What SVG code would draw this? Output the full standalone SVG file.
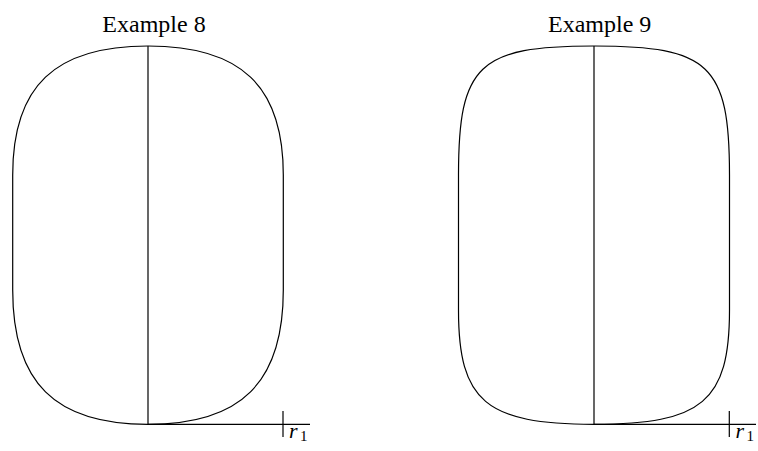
<svg xmlns="http://www.w3.org/2000/svg" width="758" height="451" viewBox="0 0 758 451">
<style>
.c{fill:none;stroke:#000;stroke-width:1.2}
.t{font-family:"Liberation Serif","DejaVu Serif",serif;font-size:24px;fill:#000}
.r{font-family:"Liberation Serif","DejaVu Serif",serif;font-size:22px;font-style:italic;fill:#000}
.s{font-family:"Liberation Serif","DejaVu Serif",serif;font-size:15px;fill:#000}
</style>
<rect width="758" height="451" fill="#fff"/>
<g id="example8">
<text class="t" x="154" y="31.5" text-anchor="middle">Example 8</text>
<path class="c" d="M148,46 C55,46 12.7,86 12.7,175 L12.7,290 C12.7,382.5 55,424.3 148,424.3 C241,424.3 283.3,382.5 283.3,290 L283.3,175 C283.3,86 241,46 148,46 Z"/>
<line class="c" x1="148" y1="46" x2="148" y2="424.3"/>
<line class="c" x1="148" y1="424.3" x2="310" y2="424.3"/>
<line class="c" x1="283" y1="411" x2="283" y2="437"/>
<text class="r" x="289" y="438">r</text>
<text class="s" x="300" y="441">1</text>
</g>
<g id="example9">
<text class="t" x="599.7" y="31.5" text-anchor="middle">Example 9</text>
<path class="c" d="M594,46 C478.4,46 458.5,65 458.5,175 L458.5,310 C458.5,401.2 485.6,424.3 594,424.3 C702.4,424.3 729.5,401.2 729.5,310 L729.5,175 C729.5,65 709.6,46 594,46 Z"/>
<line class="c" x1="594" y1="46" x2="594" y2="424.3"/>
<line class="c" x1="594" y1="424.3" x2="756" y2="424.3"/>
<line class="c" x1="729.3" y1="411" x2="729.3" y2="437"/>
<text class="r" x="735.5" y="438">r</text>
<text class="s" x="746.5" y="441">1</text>
</g>
</svg>
